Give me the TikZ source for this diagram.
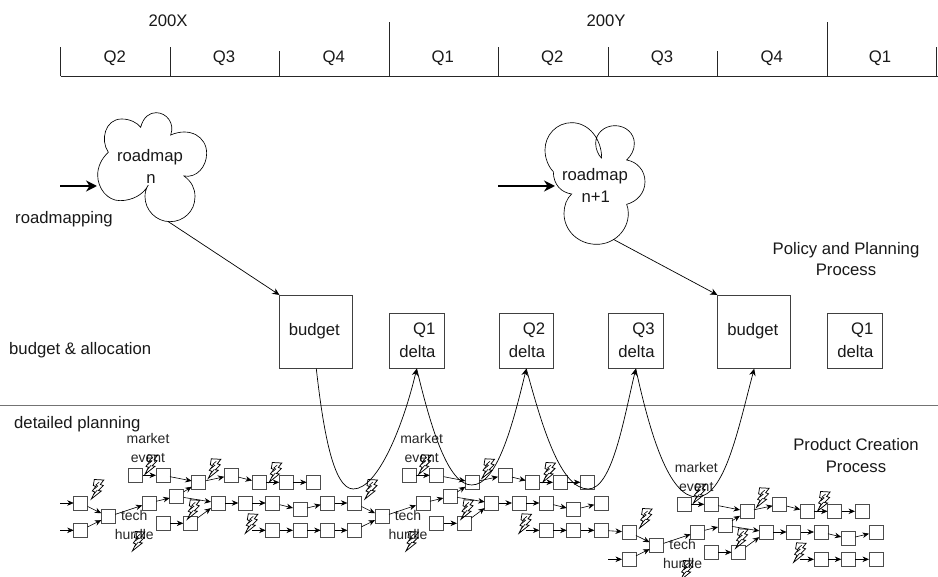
\documentclass[tikz,border=0pt]{standalone}
\usepackage{fontspec}
\setmainfont{Liberation Sans}
\usetikzlibrary{arrows.meta}
\tikzset{
  lab/.style={inner sep=0pt,font=\fontsize{16.7}{21.7}\selectfont,text=black!90},
  smalllab/.style={inner sep=0pt,align=center,font=\fontsize{14}{19}\selectfont,text=black!85},
  tick/.style={draw=black!85,line width=.7pt},
  bigbox/.style={draw=black!75,line width=.8pt,inner sep=0pt},
  sq/.style={draw=black!70,line width=1pt,minimum size=14pt,inner sep=0pt,outer sep=0pt},
  link/.style={draw=black,line width=.6pt,-{Stealth[length=6.5pt,width=5.5pt]}},
  bold/.style={draw=black,line width=2pt,-{Stealth[length=11pt,width=11pt]}},
  curve/.style={draw=black,line width=.7pt,-{Stealth[length=7pt,width=6.5pt]}},
  diag/.style={draw=black,line width=.7pt,-{Stealth[length=7pt,width=6.5pt]}},
  cloudline/.style={draw=black,line width=.65pt,fill=white},
  pics/bolt/.style={code={
    \draw[line width=.75pt,line join=miter]
      (0,0) -- (3.5,-7) -- (1,-8) -- (4.5,-12.5) -- (2,-13.5) -- (3,-19.5) -- (12.5,-19)
      -- (9,-14.5) -- (12,-13.5) -- (7,-8.5) -- (10,-8) -- cycle;
    \draw[line width=.6pt] (3,-10) -- (6.5,-13) -- (4.5,-14) -- (8,-17);
    \draw[line width=.6pt] (2,-4) -- (6,-9);
  }},
  pics/flowblock/.style={code={
    \node[smalllab] (-mk) at (148,448.3) {market\\event};
    \node[smalllab] (-th) at (134.3,525.3) {tech\\hurdle};
    \coordinate (-in1) at (60,503);
    \coordinate (-in2) at (60,530.3);
    \coordinate (-in3) at (252,530.3);
    \node[sq] (-A1) at (80.7,503) {};
    \node[sq] (-A2) at (80.7,530.3) {};
    \node[sq] (-B) at (108.3,516.7) {};
    \node[sq] (-C) at (149.3,503) {};
    \node[sq] (-D) at (176.7,496.3) {};
    \node[sq] (-E) at (163,523.3) {};
    \node[sq] (-F) at (190.3,523.3) {};
    \node[sq] (-G) at (135.7,475.3) {};
    \node[sq] (-H) at (163,475.3) {};
    \node[sq] (-I) at (198.7,482.3) {};
    \node[sq] (-J) at (231.3,475.3) {};
    \node[sq] (-K) at (259,482.3) {};
    \node[sq] (-L) at (286.3,482.3) {};
    \node[sq] (-M) at (313.7,482.3) {};
    \node[sq] (-N) at (218,503) {};
    \node[sq] (-O) at (245.3,503) {};
    \node[sq] (-P) at (272.7,503) {};
    \node[sq] (-Q) at (300,509.7) {};
    \node[sq] (-R) at (327.7,503) {};
    \node[sq] (-S) at (272.7,530.3) {};
    \node[sq] (-T) at (300,530.3) {};
    \node[sq] (-U) at (327.7,530.3) {};
    \draw[link] (-A1) -- (-B);
    \draw[link] (-A2) -- (-B);
    \draw[link] (-B) -- (-C);
    \draw[link] (-C) -- (-D);
    \draw[link] (-D) -- (-I);
    \draw[link] (-D) -- (-N);
    \draw[link] (-E) -- (-F);
    \draw[link] (-F) -- (-N);
    \draw[link] (-G) -- (-H);
    \draw[link] (-H) -- (-I);
    \draw[link] (-I) -- (-J);
    \draw[link] (-J) -- (-K);
    \draw[link] (-K) -- (-L);
    \draw[link] (-L) -- (-M);
    \draw[link] (-N) -- (-O);
    \draw[link] (-O) -- (-P);
    \draw[link] (-P) -- (-Q);
    \draw[link] (-Q) -- (-R);
    \draw[link] (-in3) -- (-S);
    \draw[link] (-S) -- (-T);
    \draw[link] (-T) -- (-U);
    \pic at (91.3,499) {bolt};
    \pic at (145,474.3) {bolt};
    \pic at (132.3,551) {bolt};
    \pic at (208.3,478.3) {bolt};
    \pic at (187.3,519.3) {bolt};
    \pic at (269.3,482) {bolt};
    \pic at (245.3,533.3) {bolt};
  }}
}
\begin{document}
\begin{tikzpicture}[x=1pt,y=-1pt]
\useasboundingbox (0,0) rectangle (938,577);
% timeline
\coordinate (tl) at (60.7,76.3);
\coordinate (tr) at (938,76.3);
\draw[tick] (tl) -- (tr);
\foreach \x/\t in {60.7/47,170.3/47,279.7/50.7,389.3/21.7,498.7/47,608.3/47,717.7/50.7,827.3/21.7,936.3/47}
  \draw[tick] (\x,76.3) -- (\x,\t);
\node[lab] (yx) at (168,21) {200X};
\node[lab] (yy) at (606,21) {200Y};
\foreach \x/\q/\n in {114.7/Q2/a,224/Q3/b,333.7/Q4/c,442.7/Q1/d,552.3/Q2/e,662/Q3/f,771.7/Q4/g,880/Q1/h}
  \node[lab] (q\n) at (\x,58.7) {\q};
% divider
\coordinate (dl) at (0,405.3);
\coordinate (dr) at (938,405.3);
\draw[draw=black!55,line width=1.1pt] (dl) -- (dr);
% labels
\node[lab,anchor=west] (l1) at (15,219) {roadmapping};
\node[lab,anchor=west] (l2) at (9,350) {budget \& allocation};
\node[lab,anchor=west] (l3) at (14,424) {detailed planning};
\node[lab,align=center] (l4) at (846,259) {Policy and Planning\\Process};
\node[lab,align=center] (l5) at (856,455.5) {Product Creation\\Process};
% flow blocks
\pic (a) at (0,0) {flowblock};
\pic (b) at (273.7,0) {flowblock};
\pic (c) at (548.3,29) {flowblock};
\draw[link] (a-in1) -- (a-A1);
\draw[link] (a-in2) -- (a-A2);
\draw[link] (a-R) -- (b-A1);
\draw[link] (a-U) -- (b-A2);
\draw[link] (b-U) -- (c-A1);
\draw[link] (c-in2) -- (c-A2);
% boxes
\node[bigbox,minimum width=73pt,minimum height=73pt] (b1) at (316.3,331.8) {};
\node[bigbox,minimum width=54.7pt,minimum height=54.7pt] (d1) at (416.7,341) {};
\node[bigbox,minimum width=54.7pt,minimum height=54.7pt] (d2) at (526.3,341) {};
\node[bigbox,minimum width=54.7pt,minimum height=54.7pt] (d3) at (635.8,341) {};
\node[bigbox,minimum width=73pt,minimum height=73pt] (b2) at (754.2,331.8) {};
\node[bigbox,minimum width=54.7pt,minimum height=54.7pt] (d4) at (854.7,341) {};
\node[lab] (tb1) at (314.3,331) {budget};
\node[lab] (tb2) at (752.8,331) {budget};
\foreach \n/\xx/\q in {1/435.7/Q1,2/545.3/Q2,3/654.8/Q3,4/873.7/Q1}{
  \node[lab,anchor=east] (q\n x) at (\xx,330) {\q};
  \node[lab,anchor=east] (de\n) at (\xx,351.7) {delta};
}
% clouds
\begin{scope}[shift={(50,100)},x=.33333pt,y=-.33333pt]
\draw[cloudline] (175,157) .. controls (150,120) and (165,57) .. (215,57) .. controls (240,57) and (262,68) .. (272,82)
 .. controls (280,50) and (300,38) .. (318,38) .. controls (350,38) and (375,70) .. (362,105)
 .. controls (420,80) and (470,110) .. (470,160) .. controls (470,200) and (440,235) .. (402,228)
 .. controls (425,245) and (435,265) .. (435,290) .. controls (435,335) and (400,365) .. (360,365)
 .. controls (318,365) and (285,330) .. (285,290) .. controls (285,278) and (288,265) .. (295,255)
 .. controls (280,285) and (245,302) .. (210,302) .. controls (172,302) and (143,265) .. (143,225)
 .. controls (143,200) and (155,175) .. (175,157);
\coordinate (c1in) at (141,258);
\coordinate (c1out) at (355,365);
\end{scope}
\begin{scope}[shift={(490,110)},x=.33333pt,y=-.33333pt]
\draw[cloudline] (335,145) .. controls (335,85) and (295,38) .. (245,38) .. controls (200,38) and (165,75) .. (165,120)
 .. controls (165,145) and (175,170) .. (190,185) .. controls (190,225) and (215,248) .. (245,252)
 .. controls (230,265) and (222,288) .. (222,310) .. controls (222,362) and (265,403) .. (320,403)
 .. controls (372,403) and (415,362) .. (415,310) .. controls (415,300) and (413,290) .. (410,283)
 .. controls (440,275) and (465,250) .. (465,215) .. controls (465,180) and (440,155) .. (410,150)
 .. controls (425,135) and (433,120) .. (433,100) .. controls (433,70) and (407,47) .. (375,47)
 .. controls (343,47) and (317,70) .. (317,100) .. controls (317,118) and (325,135) .. (335,145);
\coordinate (c2in) at (195,228);
\coordinate (c2out) at (370,388);
\end{scope}
\node[lab] (r1) at (150,156.7) {roadmap};
\node[lab] (r1n) at (151,179) {n};
\node[lab] (r2) at (595,175.7) {roadmap};
\node[lab] (r2n) at (595.7,196.7) {n+1};
\coordinate (s1) at (60,186);
\coordinate (s2) at (498,186);
\coordinate (e1) at (97,186);
\coordinate (e2) at (555,186);
\draw[bold] (s1) -- (e1);
\draw[bold] (s2) -- (e2);
\draw[diag] (c1out) -- (b1.north west);
\draw[diag] (c2out) -- (b2.north west);
% curves
\coordinate (m1) at (353.3,489);
\coordinate (m2) at (471.7,485);
\coordinate (m3) at (588.3,489);
\coordinate (m4) at (696.7,497);
\draw[curve] (b1.south) .. controls +(7,62) and +(-20,0) .. (m1) .. controls +(25,0) and +(-13,55) .. (d1.south);
\draw[curve] (d1.south) .. controls +(14,58) and +(-24,0) .. (m2) .. controls +(25,0) and +(-14,58) .. (d2.south);
\draw[curve] (d2.south) .. controls +(16,58) and +(-28,0) .. (m3) .. controls +(24,0) and +(-12,50) .. (d3.south);
\draw[curve] (d3.south) .. controls +(14,64) and +(-28,0) .. (m4) .. controls +(28,0) and +(-16,60) .. (b2.south);
\end{tikzpicture}
\end{document}
